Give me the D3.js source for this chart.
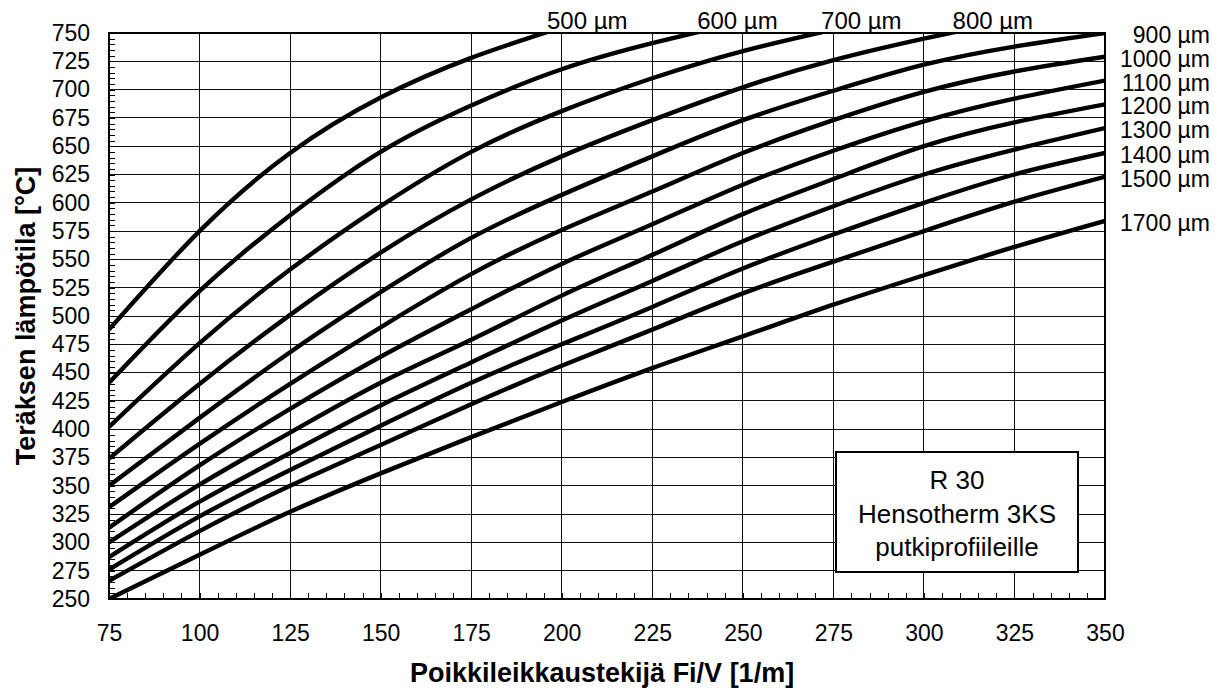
<!DOCTYPE html>
<html>
<head>
<meta charset="utf-8">
<script src="https://cdn.jsdelivr.net/npm/d3@7"></script>
<style>
  body { margin: 0; background: #fff; }
  text { font-family: "Liberation Sans", Arial, sans-serif; fill: #000; }
</style>
</head>
<body>
<div id="chart"></div>
<script>
//chart data
var fiV = [75, 100, 125, 150, 175, 200, 225, 250, 275, 300, 325, 350];
var xTicks = [75, 100, 125, 150, 175, 200, 225, 250, 275, 300, 325, 350];
var yTicks = [250, 275, 300, 325, 350, 375, 400, 425, 450, 475, 500, 525, 550, 575, 600, 625, 650, 675, 700, 725, 750];

//steel temperature per coating thickness (values past 750 run off the top)
var t500 = [488, 575, 644, 693, 728, 755];
var t600 = [441, 522, 589, 645, 686, 718, 741, 760];
var t700 = [402, 476, 541, 597, 645, 681, 710, 734, 753];
var t800 = [374, 440, 501, 556, 603, 641, 673, 702, 726, 745, 762];
var t900 = [350, 410, 468, 521, 569, 607, 641, 673, 699, 722, 738, 750];
var t1000 = [331, 387, 440, 490, 537, 576, 610, 644, 673, 698, 716, 729];
var t1100 = [313, 368, 418, 464, 506, 546, 581, 616, 646, 672, 692, 708];
var t1200 = [300, 351, 397, 441, 479, 518, 554, 590, 621, 650, 671, 687];
var t1300 = [287, 336, 379, 421, 459, 496, 531, 566, 597, 625, 647, 666];
var t1400 = [276, 323, 364, 403, 441, 475, 508, 542, 572, 600, 625, 644];
var t1500 = [266, 310, 350, 386, 422, 456, 488, 520, 548, 575, 601, 623];
var t1700 = [250, 289, 327, 361, 393, 424, 454, 482, 510, 536, 561, 584];

var seriesNames = ["500 µm", "600 µm", "700 µm", "800 µm", "900 µm", "1000 µm",
    "1100 µm", "1200 µm", "1300 µm", "1400 µm", "1500 µm", "1700 µm"];
var seriesValues = [t500, t600, t700, t800, t900, t1000, t1100, t1200, t1300, t1400, t1500, t1700];

var noteLines = ["R 30", "Hensotherm 3KS", "putkiprofiileille"];

//svg dimensions
var svgWidth = 1221;
var svgHeight = 690;
var margin = { top: 33, right: 116, bottom: 91, left: 109 };
var width = svgWidth - margin.left - margin.right;
var height = svgHeight - margin.top - margin.bottom;

var svg = d3.select("#chart")
    .append("svg")
    .attr("width", svgWidth)
    .attr("height", svgHeight);

var chartGroup = svg.append("g")
    .attr("transform", `translate(${margin.left}, ${margin.top})`);

var x = d3.scaleLinear().domain([75, 350]).range([0, width]);
var y = d3.scaleLinear().domain([250, 750]).range([height, 0]);

//grid lines
chartGroup.append("g")
    .selectAll("line.vgrid")
    .data(xTicks)
    .enter()
    .append("line")
    .attr("x1", d => x(d)).attr("x2", d => x(d))
    .attr("y1", 0).attr("y2", height)
    .attr("stroke", "#111")
    .attr("stroke-width", 1)
    .attr("shape-rendering", "crispEdges");

chartGroup.append("g")
    .selectAll("line.hgrid")
    .data(yTicks)
    .enter()
    .append("line")
    .attr("x1", 0).attr("x2", width)
    .attr("y1", d => y(d)).attr("y2", d => y(d))
    .attr("stroke", "#111")
    .attr("stroke-width", 1)
    .attr("shape-rendering", "crispEdges");

//minor ticks every 5 units, pointing into the plot
var xMinor = d3.range(75, 351, 5);
var yMinor = d3.range(250, 751, 5);

var xAxisMinor = chartGroup.append("g")
    .attr("transform", `translate(0, ${height})`)
    .call(d3.axisBottom(x).tickValues(xMinor).tickSize(-6).tickFormat(""));
var yAxisMinor = chartGroup.append("g")
    .call(d3.axisLeft(y).tickValues(yMinor).tickSize(-6).tickFormat(""));
[xAxisMinor, yAxisMinor].forEach(function(a) {
    a.select(".domain").remove();
    a.selectAll("line").attr("stroke", "#000").attr("shape-rendering", "crispEdges");
});

//tick labels
var xAxis = chartGroup.append("g")
    .attr("transform", `translate(0, ${height})`)
    .call(d3.axisBottom(x).tickValues(xTicks).tickSize(0).tickPadding(34).tickFormat(d3.format("d")));
var yAxis = chartGroup.append("g")
    .call(d3.axisLeft(y).tickValues(yTicks).tickSize(0).tickPadding(19).tickFormat(d3.format("d")));
[xAxis, yAxis].forEach(function(a) {
    a.select(".domain").remove();
    a.selectAll("text")
        .style("font-size", "23px")
        .style("font-family", "'Liberation Sans', Arial, sans-serif")
        .attr("fill", "#000");
});
xAxis.selectAll("text").attr("dy", null).attr("dominant-baseline", "central");

//plot border
chartGroup.append("rect")
    .attr("width", width)
    .attr("height", height)
    .attr("fill", "none")
    .attr("stroke", "#000")
    .attr("stroke-width", 1.5)
    .attr("shape-rendering", "crispEdges");

//clip the curves at the plot area
svg.append("defs").append("clipPath")
    .attr("id", "plotClip")
    .append("rect")
    .attr("width", width)
    .attr("height", height);

var line = d3.line()
    .x(d => x(d[0]))
    .y(d => y(d[1]))
    .curve(d3.curveNatural);

var series = seriesNames.map(function(name, i) {
    return {
        name: name,
        points: seriesValues[i].map((v, j) => [fiV[j], v])
    };
});

chartGroup.append("g")
    .attr("clip-path", "url(#plotClip)")
    .selectAll("path")
    .data(series)
    .enter()
    .append("path")
    .attr("d", d => line(d.points))
    .attr("fill", "none")
    .attr("stroke", "#000")
    .attr("stroke-width", 4.4)
    .attr("stroke-linejoin", "round");

//labels: curves that leave through the top get a label there, the rest at the right
series.forEach(function(s) {
    var last = s.points[s.points.length - 1];
    if (last[0] < 350) {
        //find where the curve crosses 750
        var cross = 350;
        for (var k = 1; k < s.points.length; k++) {
            var a = s.points[k - 1], b = s.points[k];
            if (a[1] < 750 && b[1] >= 750) {
                cross = a[0] + (b[0] - a[0]) * (750 - a[1]) / (b[1] - a[1]);
                break;
            }
        }
        chartGroup.append("text")
            .attr("x", x(cross) + 2)
            .attr("y", -4)
            .attr("text-anchor", "start")
            .style("font-size", "24px")
            .text(s.name);
    } else {
        chartGroup.append("text")
            .attr("x", svgWidth - 11 - margin.left)
            .attr("y", y(last[1]) + 2)
            .attr("dominant-baseline", "central")
            .attr("text-anchor", "end")
            .style("font-size", "23px")
            .text(s.name);
    }
});

//note box
var note = chartGroup.append("g")
    .attr("transform", `translate(${836 - margin.left}, ${452 - margin.top})`);
note.append("rect")
    .attr("width", 242)
    .attr("height", 120)
    .attr("fill", "#fff")
    .attr("stroke", "#000")
    .attr("stroke-width", 1.2)
    .attr("shape-rendering", "crispEdges");
note.selectAll("text")
    .data(noteLines)
    .enter()
    .append("text")
    .attr("x", 121)
    .attr("y", (d, i) => 28 + i * 33.5)
    .attr("dominant-baseline", "central")
    .attr("text-anchor", "middle")
    .style("font-size", "26px")
    .text(d => d);

//axis titles
svg.append("text")
    .attr("x", margin.left + width / 2.02)
    .attr("y", 682)
    .attr("text-anchor", "middle")
    .style("font-size", "27px")
    .style("font-weight", "bold")
    .text("Poikkileikkaustekijä Fi/V [1/m]");

svg.append("text")
    .attr("transform", "rotate(-90)")
    .attr("x", 0 - (margin.top + height / 2))
    .attr("y", 35)
    .attr("text-anchor", "middle")
    .style("font-size", "27px")
    .style("font-weight", "bold")
    .text("Teräksen lämpötila [°C]");
</script>
</body>
</html>
